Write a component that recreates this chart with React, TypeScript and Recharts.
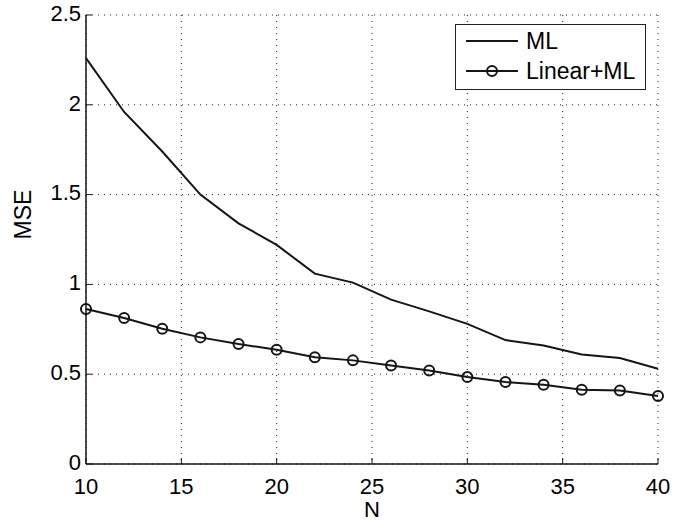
import { CartesianGrid, Line, LineChart, XAxis, YAxis } from "recharts";

// values
const nValues = [10, 12, 14, 16, 18, 20, 22, 24, 26, 28, 30, 32, 34, 36, 38, 40];
const mlMse = [2.26, 1.96, 1.74, 1.5, 1.34, 1.22, 1.06, 1.01, 0.915, 0.85, 0.78, 0.69, 0.66, 0.61, 0.59, 0.53];
const linearMlMse = [0.863, 0.813, 0.753, 0.705, 0.668, 0.636, 0.595, 0.577, 0.549, 0.521, 0.484, 0.456, 0.441, 0.413, 0.409, 0.379];
const xTicks = [10, 15, 20, 25, 30, 35, 40];
const yTicks = [0, 0.5, 1, 1.5, 2, 2.5];
const seriesLabels = ["ML", "Linear+ML"];

const data = nValues.map((n, i) => ({ n, ml: mlMse[i], linearMl: linearMlMse[i] }));

const FONT = "'Liberation Sans', Arial, Helvetica, sans-serif";
const INK = "#151515";
const tickStyle = { fill: "#000", fontSize: 22, fontFamily: FONT };

// matlab style boxed legend, laid over the plot's top right corner
function MatlabLegend() {
  return (
    <div
      style={{
        position: "absolute",
        left: 455,
        top: 24,
        width: 189,
        height: 63,
        border: "1px solid #222",
        background: "#fff",
        paddingTop: 1,
      }}
    >
      {seriesLabels.map((label, i) => (
        <div key={label} style={{ display: "flex", alignItems: "center", height: 30 }}>
          <svg width={62} height={20} style={{ marginLeft: 8 }}>
            <line x1={2} y1={10} x2={54} y2={10} stroke={INK} strokeWidth={2} />
            {i === 1 && <circle cx={28} cy={10} r={5} fill="none" stroke={INK} strokeWidth={2} />}
          </svg>
          <span style={{ fontFamily: FONT, fontSize: 23, color: "#000", lineHeight: "24px" }}>{label}</span>
        </div>
      ))}
    </div>
  );
}

export default function App() {
  return (
    <div style={{ position: "absolute", left: 0, top: 0, width: 689, height: 523, background: "#fff" }}>
      <LineChart width={689} height={523} data={data} margin={{ top: 15, right: 31, bottom: 0, left: 0 }}>
        <CartesianGrid stroke="#222" strokeDasharray="1 5" strokeWidth={1} />
        <XAxis
          dataKey="n"
          type="number"
          domain={[10, 40]}
          ticks={xTicks}
          height={59}
          tickSize={-6}
          tickMargin={20}
          axisLine={{ stroke: INK, strokeWidth: 1.5 }}
          tickLine={{ stroke: INK }}
          tick={tickStyle}
          label={{ value: "N", position: "insideBottom", offset: 6, fill: "#000", fontSize: 22, fontFamily: FONT }}
        />
        <XAxis
          xAxisId="top"
          dataKey="n"
          type="number"
          orientation="top"
          domain={[10, 40]}
          ticks={xTicks}
          height={0}
          tickSize={-6}
          tickFormatter={() => ""}
          axisLine={{ stroke: INK, strokeWidth: 1.5 }}
          tickLine={{ stroke: INK }}
        />
        <YAxis
          type="number"
          domain={[0, 2.5]}
          ticks={yTicks}
          width={86}
          tickSize={-6}
          tickMargin={11}
          axisLine={{ stroke: INK, strokeWidth: 1.5 }}
          tickLine={{ stroke: INK }}
          tick={{ ...tickStyle, dy: -2 }}
          label={{ value: "MSE", angle: -90, position: "insideLeft", offset: 23, fill: "#000", fontSize: 23, fontFamily: FONT }}
        />
        <YAxis
          yAxisId="right"
          orientation="right"
          type="number"
          domain={[0, 2.5]}
          ticks={yTicks}
          width={0}
          tickSize={-6}
          tickFormatter={() => ""}
          axisLine={{ stroke: INK, strokeWidth: 1.5 }}
          tickLine={{ stroke: INK }}
        />
        <Line
          dataKey="ml"
          name={seriesLabels[0]}
          stroke={INK}
          strokeWidth={2}
          dot={false}
          isAnimationActive={false}
        />
        <Line
          dataKey="linearMl"
          name={seriesLabels[1]}
          stroke={INK}
          strokeWidth={2}
          dot={{ r: 5, fill: "none", stroke: INK, strokeWidth: 2 }}
          isAnimationActive={false}
        />
      </LineChart>
      <MatlabLegend />
    </div>
  );
}
